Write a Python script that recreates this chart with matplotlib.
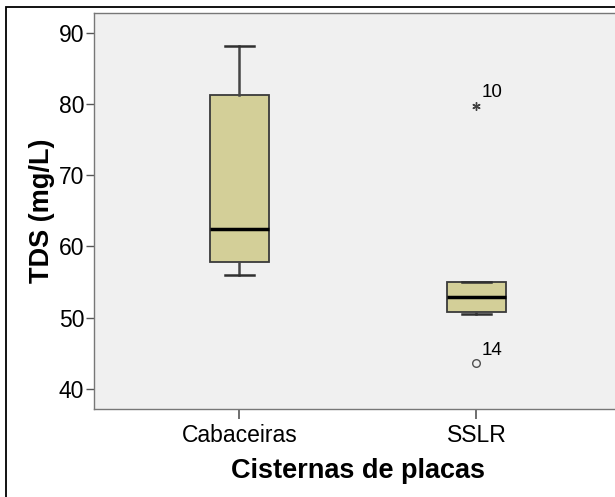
import matplotlib
matplotlib.use("Agg")
import matplotlib.pyplot as plt
from matplotlib.patches import Rectangle

plt.rcParams['font.family'] = ['Liberation Sans', 'DejaVu Sans']

categories = ["Cabaceiras", "SSLR"]
whisker_low = [56.0, 50.55]
q1 = [57.8, 50.85]
median = [62.4, 52.95]
q3 = [81.3, 55.0]
whisker_high = [88.1, 55.0]
extreme_vals = [[], [79.7]]
extreme_ids = [[], ["10"]]
outlier_vals = [[], [43.6]]
outlier_ids = [[], ["14"]]
yticks = [40, 50, 60, 70, 80, 90]

fig = plt.figure(figsize=(6.15, 4.97), dpi=100)
ax = fig.add_axes([94/615, 1-409/497, 1-94/615+0.01, (409-12.7)/497])
ax.set_facecolor('#F0F0F0')

stats = []
for i, c in enumerate(categories):
    stats.append(dict(label=c, whislo=whisker_low[i], q1=q1[i], med=median[i],
                      q3=q3[i], whishi=whisker_high[i], fliers=[]))

pos = list(range(1, len(categories) + 1))
bp = ax.bxp(stats, positions=pos, widths=0.25, patch_artist=True, showfliers=False,
            boxprops=dict(facecolor='#D3CF98', edgecolor='#3a3a3a', linewidth=1.3),
            medianprops=dict(color='black', linewidth=2.5),
            whiskerprops=dict(color='#454545', linewidth=1.8),
            capprops=dict(color='#303030', linewidth=1.8),
            capwidths=0.12)

for i, p in enumerate(pos):
    for v, lab in zip(extreme_vals[i], extreme_ids[i]):
        ax.plot([p], [v], marker=(6, 2, 0), markersize=6, color='#404040',
                markeredgewidth=1.0, linestyle='none')
        ax.annotate(lab, (p, v), xytext=(3.5, 3.5), textcoords='offset points',
                    fontsize=13.5, color='black', ha='left', va='bottom')
    for v, lab in zip(outlier_vals[i], outlier_ids[i]):
        ax.plot([p], [v], marker='o', markersize=5.5, markerfacecolor='none',
                markeredgecolor='#505050', markeredgewidth=1.0, linestyle='none')
        ax.annotate(lab, (p, v), xytext=(3.5, 3.5), textcoords='offset points',
                    fontsize=13.5, color='black', ha='left', va='bottom')

ax.set_xlim(0.387, 2.61)
ax.set_ylim(37.2, 92.8)
ax.set_yticks(yticks)
ax.set_xticks(pos)
ax.set_xticklabels(categories)
ax.tick_params(axis='both', labelsize=16.5, colors='#555555', labelcolor='black',
               direction='out')
ax.tick_params(axis='y', length=6, width=1, pad=1)
ax.tick_params(axis='x', length=7, width=1.2, pad=4)
for s in ax.spines.values():
    s.set_color('#777777')
    s.set_linewidth(1.0)

ax.set_ylabel('TDS (mg/L)', fontsize=19.5, fontweight='bold', labelpad=3)
ax.set_xlabel('Cisternas de placas', fontsize=19.5, fontweight='bold', labelpad=8)

fig.add_artist(Rectangle((6/615, -0.1), 1.2, 1.1 - 7/497, transform=fig.transFigure,
                         fill=False, edgecolor='black', linewidth=1.3))

fig.savefig('out.png', dpi=100)
